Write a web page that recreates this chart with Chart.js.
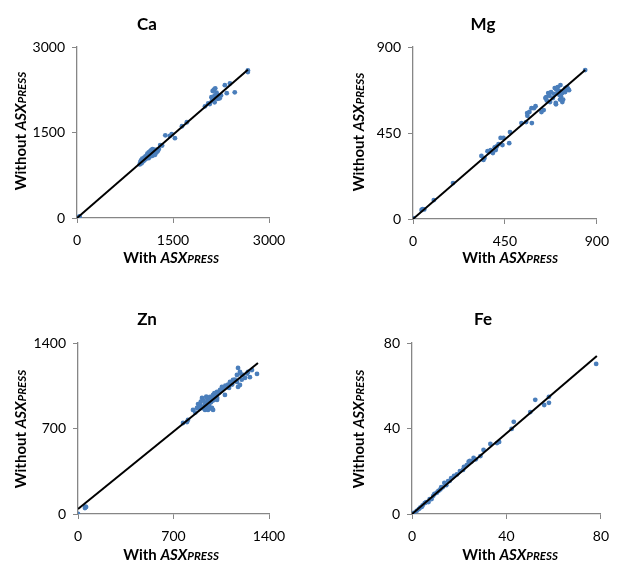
<!DOCTYPE html>
<html>
<head>
<meta charset="utf-8">
<script src="https://cdn.jsdelivr.net/npm/chart.js@4.4.1/dist/chart.umd.min.js"></script>
<style>
  html, body { margin: 0; padding: 0; background: #ffffff; }
  #wrap { position: relative; width: 618px; height: 561px; overflow: hidden; background: #ffffff; }
  .cell { position: absolute; width: 309px; height: 281px; }
  canvas { display: block; }
</style>
</head>
<body>
<div id="wrap">
  <div class="cell" style="left:0;top:0"><canvas id="c0" width="309" height="281"></canvas></div>
  <div class="cell" style="left:309px;top:0"><canvas id="c1" width="309" height="281"></canvas></div>
  <div class="cell" style="left:0;top:280px"><canvas id="c2" width="309" height="281"></canvas></div>
  <div class="cell" style="left:309px;top:280px"><canvas id="c3" width="309" height="281"></canvas></div>
</div>
<script>
// ---------------- DATA ----------------
const panelTitles = ['Ca', 'Mg', 'Zn', 'Fe'];
const xAxisLabel = ['With ', 'ASX', 'PRESS'];
const yAxisLabel = ['Without ', 'ASX', 'PRESS'];

const caTicks = [0, 1500, 3000];
const caWith    = [0, 25, 40, 980, 990, 1000, 1010, 1020, 1040, 1050, 1060, 1070, 1080, 1090, 1100, 1100, 1110, 1120, 1120, 1130, 1140, 1140, 1150, 1160, 1160, 1170, 1180, 1180, 1190, 1200, 1200, 1210, 1220, 1230, 1240, 1250, 1260, 1280, 1300, 1330, 1380, 1450, 1530, 1480, 1640, 1716, 2000, 2050, 2075, 2100, 2110, 2120, 2130, 2140, 2150, 2150, 2160, 2170, 2180, 2190, 2200, 2210, 2230, 2250, 2310, 2340, 2390, 2465, 2670, 2670];
const caWithout = [5, 15, 30, 940, 980, 1010, 960, 1040, 1000, 1060, 1020, 1080, 1040, 1100, 1060, 1130, 1090, 1150, 1050, 1110, 1170, 1080, 1130, 1190, 1100, 1150, 1210, 1090, 1160, 1130, 1200, 1170, 1110, 1180, 1150, 1200, 1170, 1210, 1280, 1270, 1450, 1440, 1400, 1470, 1610, 1680, 1960, 2010, 2000, 2120, 2060, 2230, 2080, 2250, 2030, 2150, 2275, 2100, 2200, 2160, 2090, 2130, 2100, 2150, 2330, 2190, 2360, 2205, 2590, 2560];
const caFitX = [0, 2670];
const caFitY = [0, 2600];

const mgTicks = [0, 450, 900];
const mgWith    = [0, 42, 47, 55, 102, 196, 335, 345, 350, 365, 373, 380, 391, 400, 405, 410, 419, 429, 443, 438, 471, 475, 531, 554, 582, 559, 560, 570, 580, 592, 600, 629, 640, 648, 652, 655, 662, 668, 671, 676, 685, 690, 694, 699, 700, 700, 708, 708, 715, 717, 720, 722, 725, 731, 731, 735, 740, 745, 746, 755, 760, 764, 843];
const mgWithout = [5, 47, 52, 50, 99, 188, 330, 309, 319, 355, 350, 360, 345, 375, 361, 380, 392, 424, 424, 387, 397, 455, 502, 507, 502, 554, 540, 560, 580, 580, 590, 560, 570, 633, 638, 620, 659, 645, 612, 664, 633, 655, 685, 607, 680, 600, 690, 664, 670, 649, 625, 701, 640, 612, 659, 625, 670, 664, 685, 690, 680, 674, 779];
const mgFitX = [0, 843];
const mgFitY = [0, 780];

const znTicks = [0, 700, 1400];
const znWith    = [0, 51, 59, 55, 770, 799, 806, 843, 860, 872, 880, 890, 894, 900, 900, 909, 910, 916, 920, 925, 930, 931, 940, 940, 940, 946, 950, 953, 960, 960, 960, 968, 970, 975, 980, 982, 990, 990, 990, 1000, 1000, 1010, 1010, 1019, 1019, 1020, 1030, 1041, 1050, 1055, 1063, 1077, 1080, 1100, 1107, 1114, 1130, 1136, 1150, 1165, 1165, 1173, 1173, 1187, 1187, 1190, 1200, 1209, 1224, 1240, 1246, 1260, 1275, 1312];
const znWithout = [0, 49, 57, 60, 745, 753, 770, 852, 830, 868, 900, 860, 893, 920, 880, 950, 870, 868, 930, 880, 900, 852, 910, 880, 960, 950, 920, 852, 890, 900, 860, 958, 940, 915, 950, 868, 975, 852, 930, 960, 990, 980, 940, 999, 934, 950, 990, 1016, 1010, 1040, 1032, 975, 1050, 1060, 1032, 1081, 1060, 1097, 1100, 1081, 1138, 1040, 1196, 1056, 1163, 1150, 1100, 1138, 1114, 1150, 1163, 1120, 1179, 1147];
const znFitX = [0, 1319];
const znFitY = [41, 1236];

const feTicks = [0, 40, 80];
const feWith    = [0, 0.8, 2.0, 2.9, 3.5, 4.1, 4.5, 5.4, 6.0, 7.0, 7.5, 8.3, 9.0, 9.5, 10.5, 11.2, 12.0, 12.4, 13.0, 13.7, 14.5, 15.3, 16.0, 16.6, 17.8, 19.0, 20.3, 21.6, 22.0, 23.2, 24.0, 24.5, 25.2, 26.1, 27.0, 29.0, 30.3, 33.2, 36.0, 36.9, 42.2, 43.1, 50.1, 52.2, 56.0, 58.0, 58.0, 78.0];
const feWithout = [0, 0.5, 1.5, 2.3, 3.0, 3.3, 4.0, 5.1, 5.5, 5.6, 7.0, 7.0, 8.5, 9.4, 10.0, 10.8, 11.5, 12.6, 12.5, 14.5, 13.5, 15.4, 15.5, 16.8, 17.8, 18.5, 20.1, 20.6, 22.0, 22.9, 24.5, 24.8, 24.6, 26.2, 25.6, 27.1, 30.0, 32.8, 33.2, 33.7, 39.8, 43.1, 47.7, 53.4, 51.0, 52.0, 54.8, 70.2];
const feFitX = [0, 78.3];
const feFitY = [0, 73.9];

// ---------------- LAYOUT / STYLE ----------------
const FONT = 'Lato, "Open Sans", sans-serif';
const AXIS_COLOR = '#868686';
const POINT_COLOR = '#4a7ebb';

const panels = [
  { canvas: 'c0', title: panelTitles[0], xs: caWith, ys: caWithout, fx: caFitX, fy: caFitY, ticks: caTicks,
    area: { left: 77, top: 47, right: 269, bottom: 218 },
    titlePos: [147, 30], xTitlePos: [171, 263], yTitlePos: [26, 131] },
  { canvas: 'c1', title: panelTitles[1], xs: mgWith, ys: mgWithout, fx: mgFitX, fy: mgFitY, ticks: mgTicks,
    area: { left: 104, top: 47, right: 297, bottom: 219 },
    titlePos: [174, 30], xTitlePos: [201, 263], yTitlePos: [55, 132] },
  { canvas: 'c2', title: panelTitles[2], xs: znWith, ys: znWithout, fx: znFitX, fy: znFitY, ticks: znTicks,
    area: { left: 78, top: 63, right: 269, bottom: 234 },
    titlePos: [147, 45], xTitlePos: [171, 280], yTitlePos: [26, 149] },
  { canvas: 'c3', title: panelTitles[3], xs: feWith, ys: feWithout, fx: feFitX, fy: feFitY, ticks: feTicks,
    area: { left: 103, top: 63, right: 296, bottom: 234 },
    titlePos: [174, 45], xTitlePos: [201, 280], yTitlePos: [55, 149] }
];

function partsFonts(parts) {
  return [
    { t: parts[0], f: 'bold 15px ' + FONT },
    { t: parts[1], f: 'italic bold 15px ' + FONT },
    { t: parts[2], f: 'italic bold 11.5px ' + FONT }
  ];
}

function drawMixed(ctx, parts, cx, cy, rotate) {
  ctx.save();
  ctx.translate(cx, cy);
  if (rotate) ctx.rotate(-Math.PI / 2);
  let total = 0;
  parts.forEach(p => { ctx.font = p.f; p.w = ctx.measureText(p.t).width; total += p.w; });
  let x = -total / 2;
  ctx.fillStyle = '#000';
  ctx.textBaseline = 'alphabetic';
  ctx.textAlign = 'left';
  parts.forEach(p => { ctx.font = p.f; ctx.fillText(p.t, x, 0); x += p.w; });
  ctx.restore();
}

const labelPlugin = {
  id: 'labels',
  afterDraw(chart) {
    const p = chart.options.plugins.labels;
    const ctx = chart.ctx;
    ctx.save();
    ctx.font = 'bold 17px ' + FONT;
    ctx.fillStyle = '#000';
    ctx.textAlign = 'center';
    ctx.textBaseline = 'alphabetic';
    ctx.fillText(p.title, p.titlePos[0], p.titlePos[1]);
    ctx.restore();
    drawMixed(ctx, partsFonts(xAxisLabel), p.xTitlePos[0], p.xTitlePos[1], false);
    drawMixed(ctx, partsFonts(yAxisLabel), p.yTitlePos[0], p.yTitlePos[1], true);
  }
};

panels.forEach(p => {
  const W = 309, H = 281;
  const maxV = p.ticks[p.ticks.length - 1];
  const pts = p.xs.map((x, i) => ({ x: x, y: p.ys[i] }));
  const fit = p.fx.map((x, i) => ({ x: x, y: p.fy[i] }));
  const axisCommon = (isX) => ({
    type: 'linear',
    min: 0,
    max: maxV,
    afterBuildTicks: (scale) => { scale.ticks = p.ticks.map(v => ({ value: v })); },
    afterFit: (scale) => {
      if (isX) scale.height = H - p.area.bottom;
      else scale.width = p.area.left;
    },
    grid: { drawOnChartArea: false, drawTicks: true, tickLength: 5, color: AXIS_COLOR, lineWidth: 1 },
    border: { display: true, color: AXIS_COLOR, width: 1.3 },
    ticks: {
      color: '#000',
      font: { family: FONT, size: 14 },
      padding: isX ? 9 : 7,
      maxRotation: 0,
      autoSkip: false,
      callback: (v) => String(v)
    }
  });
  new Chart(document.getElementById(p.canvas), {
    type: 'scatter',
    data: {
      datasets: [
        { type: 'line', data: fit, borderColor: '#000', borderWidth: 2, pointRadius: 0, fill: false, order: 0 },
        { data: pts, backgroundColor: POINT_COLOR, borderColor: POINT_COLOR, pointRadius: 2.4, borderWidth: 0, order: 1 }
      ]
    },
    options: {
      responsive: false,
      animation: false,
      devicePixelRatio: 1,
      layout: { padding: { left: 0, top: p.area.top, right: W - p.area.right, bottom: 0 } },
      scales: { x: axisCommon(true), y: axisCommon(false) },
      plugins: {
        legend: { display: false },
        tooltip: { enabled: false },
        title: { display: false },
        labels: { title: p.title, titlePos: p.titlePos, xTitlePos: p.xTitlePos, yTitlePos: p.yTitlePos }
      }
    },
    plugins: [labelPlugin]
  });
});
</script>
</body>
</html>
